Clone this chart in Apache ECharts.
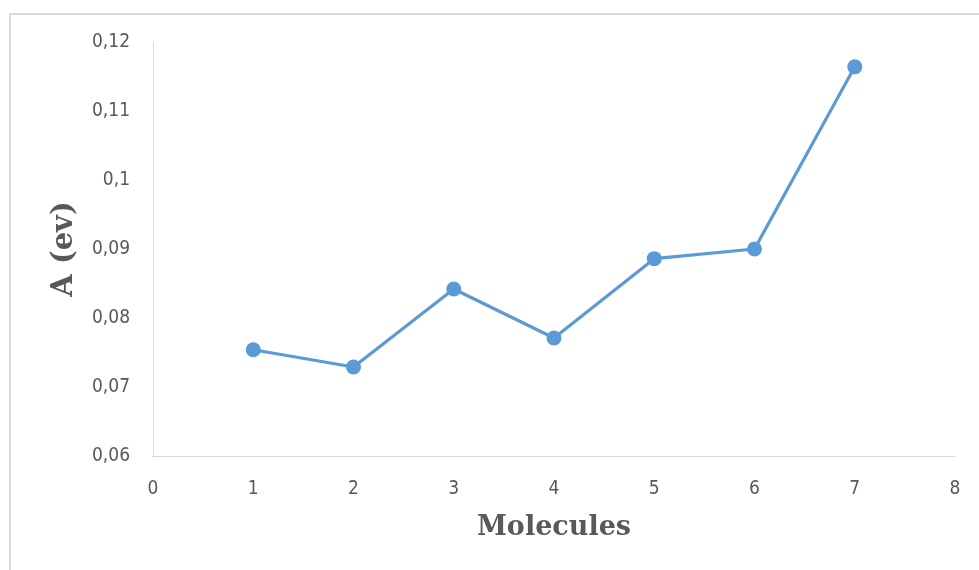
<!DOCTYPE html>
<html>
<head>
<meta charset="utf-8">
<script src="https://cdn.jsdelivr.net/npm/echarts@6/dist/echarts.min.js"></script>
<style>html,body{margin:0;padding:0;background:#fff;}#c{width:979px;height:570px;}</style>
</head>
<body>
<div id="c"></div>
<script>
const molecules = [1, 2, 3, 4, 5, 6, 7];
const aValues = [0.0754, 0.0729, 0.0842, 0.0771, 0.0886, 0.0900, 0.1164];
const xTitle = 'Molecules';
const yTitle = 'A (ev)';

const chart = echarts.init(document.getElementById('c'), null, {renderer: 'canvas'});
const labelFont = '"Liberation Sans Narrow", "DejaVu Sans Condensed", "Open Sans", sans-serif';
const titleFont = '"DejaVu Serif", "Liberation Serif", serif';
chart.setOption({
  animation: false,
  backgroundColor: '#fff',
  grid: {left: 153, right: 24, top: 42, bottom: 114},
  graphic: [
    {type: 'line', shape: {x1: 9.5, y1: 14, x2: 979, y2: 14}, style: {stroke: '#d9d9d9', lineWidth: 2}},
    {type: 'line', shape: {x1: 10, y1: 14, x2: 10, y2: 570}, style: {stroke: '#d9d9d9', lineWidth: 2}}
  ],
  xAxis: {
    type: 'value', min: 0, max: 8, interval: 1,
    name: xTitle, nameLocation: 'middle', nameGap: 58,
    nameTextStyle: {fontFamily: titleFont, fontWeight: 'bold', fontSize: 27, color: '#595959'},
    axisLine: {show: true, lineStyle: {color: '#d9d9d9', width: 1}},
    axisTick: {show: false},
    splitLine: {show: false},
    axisLabel: {fontFamily: labelFont, fontSize: 19, color: '#595959', margin: 24}
  },
  yAxis: {
    type: 'value', min: 0.06, max: 0.12, interval: 0.01,
    name: yTitle, nameLocation: 'middle', nameGap: 74, nameRotate: 90,
    nameTextStyle: {fontFamily: titleFont, fontWeight: 'bold', fontSize: 29, color: '#595959'},
    axisLine: {show: true, lineStyle: {color: '#d9d9d9', width: 1}},
    axisTick: {show: false},
    splitLine: {show: false},
    axisLabel: {fontFamily: labelFont, fontSize: 19, color: '#595959', margin: 23,
      formatter: v => String(Math.round(v * 100) / 100).replace('.', ',')}
  },
  series: [{
    type: 'line',
    data: molecules.map((m, i) => [m, aValues[i]]),
    symbol: 'circle', symbolSize: 15,
    lineStyle: {color: '#5b9bd5', width: 3.2},
    itemStyle: {color: '#5b9bd5'}
  }]
});
</script>
</body>
</html>
